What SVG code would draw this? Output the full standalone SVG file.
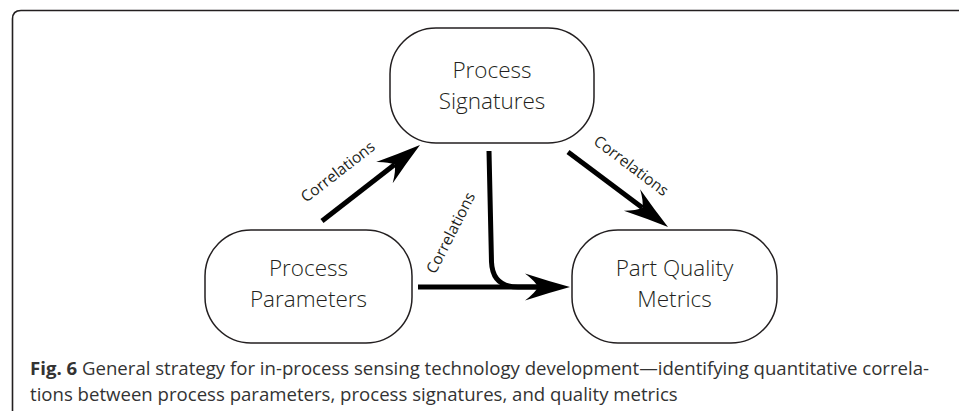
<svg xmlns="http://www.w3.org/2000/svg" width="959" height="411" viewBox="0 0 959 411">
<defs>
<style>
.frame{fill:none;stroke:#231f20;stroke-width:1.6}
.node{fill:#fff;stroke:#231f20;stroke-width:1.5}
.ntext{font-family:"Open Sans","Noto Sans",sans-serif;font-weight:300;font-size:22.5px;fill:#231f20;text-anchor:middle}
.lbl{font-family:"Open Sans","Noto Sans",sans-serif;font-weight:400;font-size:15.5px;fill:#231f20;text-anchor:middle}
.shaft{fill:none;stroke:#000;stroke-width:5}
.cap{font-family:"Open Sans","Noto Sans",sans-serif;font-size:18.6px;fill:#333}
</style>
<marker id="ah" markerUnits="userSpaceOnUse" viewBox="-14 -15 48 30" refX="0" refY="0" markerWidth="48" markerHeight="30" orient="auto">
<path d="M32,0 Q10,-6 -13,-13.5 Q-3,-6 0,0 Q-3,6 -13,13.5 Q10,6 32,0 Z" fill="#000"/>
</marker>
</defs>
<rect width="959" height="411" fill="#fff"/>
<path class="frame" d="M12.5,411 V19 Q12.5,10.5 21,10.5 H959"/>
<g id="sig">
<rect class="node" x="390" y="28" width="204" height="115" rx="46" ry="46"/>
<text class="ntext" x="492" y="78">Process</text>
<text class="ntext" x="492" y="109">Signatures</text>
</g>
<g id="params">
<rect class="node" x="205" y="230" width="207" height="113" rx="46" ry="46"/>
<text class="ntext" x="308.5" y="276">Process</text>
<text class="ntext" x="308.5" y="307">Parameters</text>
</g>
<g id="quality">
<rect class="node" x="572" y="230" width="205" height="113" rx="46" ry="46"/>
<text class="ntext" x="674.5" y="276">Part Quality</text>
<text class="ntext" x="674.5" y="307">Metrics</text>
</g>
<g id="connectors">
<line class="shaft" x1="322" y1="221" x2="394.7" y2="164.6" marker-end="url(#ah)"/>
<line class="shaft" x1="568" y1="152" x2="642.4" y2="207.8" marker-end="url(#ah)"/>
<line class="shaft" x1="418" y1="287" x2="538" y2="287" marker-end="url(#ah)"/>
<path class="shaft" d="M489,151 L491.5,262 Q492.5,287 518,287 L538,287"/>
<text class="lbl" transform="translate(338,172) rotate(-37.8)" y="5">Correlations</text>
<text class="lbl" transform="translate(631,166) rotate(37)" y="5">Correlations</text>
<text class="lbl" transform="translate(451,233) rotate(-63)" y="5">Correlations</text>
</g>
<g id="caption">
<text class="cap" x="30" y="375"><tspan font-weight="bold">Fig. 6</tspan> General strategy for in-process sensing technology development—identifying quantitative correla-</text>
<text class="cap" x="30" y="401">tions between process parameters, process signatures, and quality metrics</text>
</g>
</svg>
